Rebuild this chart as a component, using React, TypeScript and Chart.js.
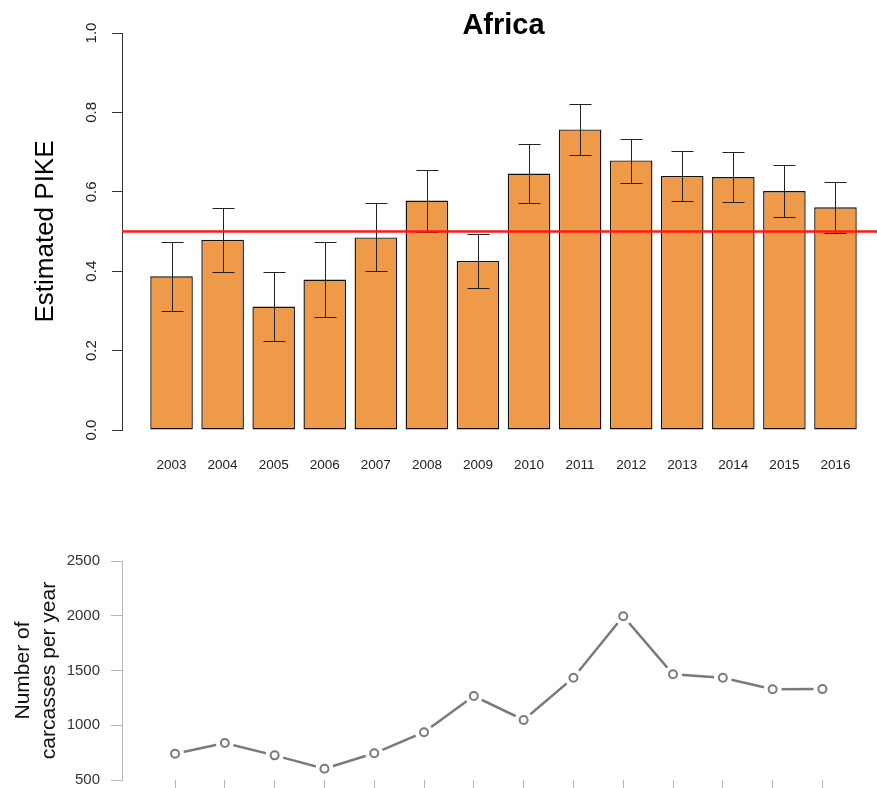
import React, { useEffect, useRef } from "react";
import { Chart, registerables } from "chart.js";

Chart.register(...registerables);

const FONT = "'Liberation Sans', Arial, Helvetica, sans-serif";
Chart.defaults.font.family = FONT;

// ---- data ----
const years = [2003, 2004, 2005, 2006, 2007, 2008, 2009, 2010, 2011, 2012, 2013, 2014, 2015, 2016];
const pike = [0.387, 0.479, 0.311, 0.379, 0.485, 0.578, 0.426, 0.646, 0.757, 0.679, 0.640, 0.637, 0.602, 0.561];
const pikeLower = [0.301, 0.397, 0.224, 0.284, 0.400, 0.499, 0.358, 0.573, 0.693, 0.623, 0.577, 0.574, 0.537, 0.496];
const pikeUpper = [0.473, 0.560, 0.397, 0.473, 0.571, 0.655, 0.494, 0.720, 0.821, 0.734, 0.704, 0.701, 0.668, 0.625];
const threshold = 0.5;
const carcasses = [740, 838, 725, 603, 744, 936, 1267, 1048, 1434, 1995, 1465, 1434, 1328, 1330];
const pikeTicks = [0, 0.2, 0.4, 0.6, 0.8, 1.0];
const carcassTicks = [500, 1000, 1500, 2000, 2500];

const BAR_COLOR = "#EE9A49";
const GREY = "#7a7a7a";
const LIGHT = "#b5b5b5";

export default function App() {
  const topRef = useRef<HTMLCanvasElement>(null);
  const botRef = useRef<HTMLCanvasElement>(null);

  useEffect(() => {
    const extras = {
      id: "pikeExtras",
      afterDatasetsDraw(chart: any) {
        const { ctx, chartArea } = chart;
        const x = chart.scales.x;
        const y = chart.scales.y;
        ctx.save();
        ctx.strokeStyle = "#222";
        ctx.lineWidth = 1;
        years.forEach((yr, i) => {
          const px = Math.round(x.getPixelForValue(yr)) + 0.5;
          const lo = Math.round(y.getPixelForValue(pikeLower[i])) + 0.5;
          const hi = Math.round(y.getPixelForValue(pikeUpper[i])) + 0.5;
          ctx.beginPath();
          ctx.moveTo(px, lo);
          ctx.lineTo(px, hi);
          ctx.moveTo(px - 11, lo);
          ctx.lineTo(px + 11, lo);
          ctx.moveTo(px - 11, hi);
          ctx.lineTo(px + 11, hi);
          ctx.stroke();
        });
        const ry = y.getPixelForValue(threshold);
        ctx.strokeStyle = "#ff1a1a";
        ctx.lineWidth = 2.5;
        ctx.beginPath();
        ctx.moveTo(chartArea.left, ry);
        ctx.lineTo(chartArea.right, ry);
        ctx.stroke();
        ctx.restore();
      },
    };

    const top = new Chart(topRef.current as HTMLCanvasElement, {
      type: "bar",
      data: {
        datasets: [
          {
            data: years.map((yr, i) => ({ x: yr, y: pike[i] })),
            backgroundColor: BAR_COLOR,
            borderColor: "#111",
            borderWidth: 1.4,
            borderSkipped: false,
            barPercentage: 1 / 1.2,
            categoryPercentage: 1,
          } as any,
        ],
      },
      options: {
        responsive: false,
        animation: false,
        devicePixelRatio: 1,
        layout: { padding: { left: 0, right: 122, top: 0, bottom: 0 } },
        plugins: {
          legend: { display: false },
          tooltip: { enabled: false },
          title: {
            display: true,
            text: "Africa",
            fullSize: false,
            color: "#000",
            font: { family: FONT, size: 29, weight: "bold", lineHeight: 1 },
            padding: { top: 11.5, bottom: -7.5 },
          },
        },
        scales: {
          x: {
            type: "linear",
            min: 2002.03,
            max: 2016.97,
            offset: false,
            grid: { display: false },
            border: { display: false },
            afterBuildTicks: (s: any) => {
              s.ticks = years.map((v) => ({ value: v }));
            },
            afterFit: (s: any) => {
              s.height = 60;
            },
            ticks: {
              autoSkip: false,
              maxRotation: 0,
              padding: 19,
              color: "#222",
              font: { family: FONT, size: 13.5 },
              callback: (v: any) => String(v),
            },
          },
          y: {
            min: 0,
            max: 1,
            afterBuildTicks: (s: any) => {
              s.ticks = pikeTicks.map((v) => ({ value: v }));
            },
            afterFit: (s: any) => {
              s.width = 122;
            },
            border: { display: true, color: "#333", width: 1 },
            grid: { drawOnChartArea: false, drawTicks: true, tickLength: 10, color: "#333", lineWidth: 1 },
            ticks: {
              minRotation: 90,
              maxRotation: 90,
              crossAlign: "center",
              padding: 10,
              color: "#222",
              font: { family: FONT, size: 15 },
              callback: (v: any) => Number(v).toFixed(1),
            },
            title: {
              display: true,
              text: "Estimated PIKE",
              color: "#000",
              font: { family: FONT, size: 26 },
              padding: { top: 30, bottom: 0 },
            },
          },
        },
      } as any,
      plugins: [extras],
    });

    const pts = years.map((yr, i) => ({ x: yr, y: carcasses[i] }));
    const bot = new Chart(botRef.current as HTMLCanvasElement, {
      type: "line",
      data: {
        datasets: [
          { data: pts, borderColor: GREY, borderWidth: 2.5, pointRadius: 0, order: 3, fill: false, tension: 0 },
          { data: pts, showLine: false, pointRadius: 9, pointBackgroundColor: "#fff", pointBorderColor: "#fff", pointBorderWidth: 0, order: 2 },
          { data: pts, showLine: false, pointRadius: 4, pointBackgroundColor: "#fff", pointBorderColor: GREY, pointBorderWidth: 2, order: 1 },
        ] as any,
      },
      options: {
        responsive: false,
        animation: false,
        devicePixelRatio: 1,
        layout: { padding: { left: 0, right: 0, top: 21, bottom: 0 } },
        plugins: { legend: { display: false }, tooltip: { enabled: false } },
        scales: {
          x: {
            type: "linear",
            min: 2001.935,
            max: 2016.915,
            grid: { display: true, drawOnChartArea: false, drawTicks: true, tickLength: 10, color: LIGHT, lineWidth: 1 },
            border: { display: false },
            ticks: { display: false },
            afterBuildTicks: (s: any) => {
              s.ticks = years.map((v) => ({ value: v }));
            },
            afterFit: (s: any) => {
              s.height = 20;
            },
          },
          y: {
            min: 500,
            max: 2500,
            afterBuildTicks: (s: any) => {
              s.ticks = carcassTicks.map((v) => ({ value: v }));
            },
            afterFit: (s: any) => {
              s.width = 122;
            },
            border: { display: true, color: LIGHT, width: 1 },
            grid: { drawOnChartArea: false, drawTicks: true, tickLength: 11, color: LIGHT, lineWidth: 1 },
            ticks: {
              padding: 11,
              color: "#333",
              font: { family: FONT, size: 15 },
              callback: (v: any) => String(v),
            },
            title: {
              display: true,
              text: ["Number of", "carcasses per year"],
              color: "#111",
              font: { family: FONT, size: 21 },
              padding: { top: 11, bottom: 0 },
            },
          },
        },
      } as any,
    });

    return () => {
      top.destroy();
      bot.destroy();
    };
  }, []);

  return (
    <div
      style={{
        position: "fixed",
        left: 0,
        top: 0,
        width: 877,
        height: 788,
        overflow: "hidden",
        background: "#fff",
      }}
    >
      <canvas ref={topRef} width={1007} height={490} style={{ position: "absolute", left: 0, top: 0 }} />
      <canvas ref={botRef} width={877} height={260} style={{ position: "absolute", left: 0, top: 540 }} />
    </div>
  );
}
